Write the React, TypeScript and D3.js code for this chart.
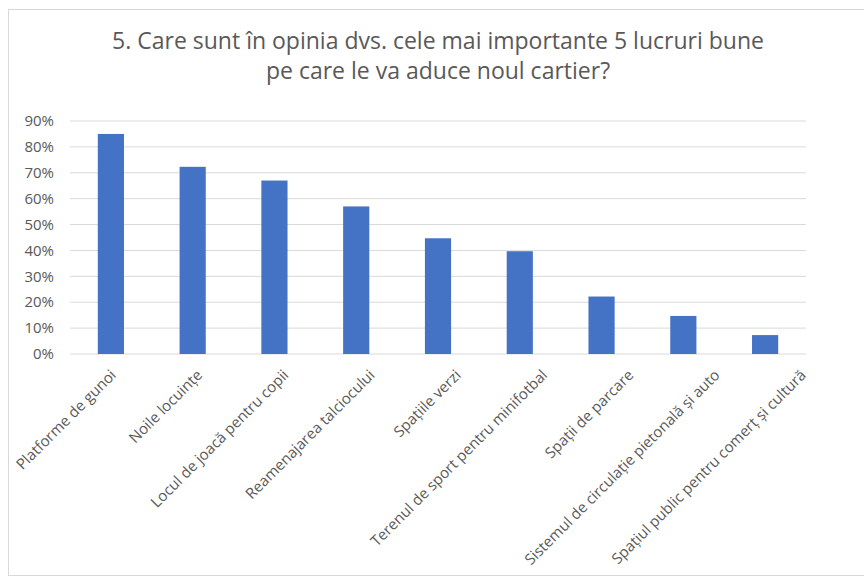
import { useEffect, useRef } from "react";
import * as d3 from "d3";

const categories = [
  "Platforme de gunoi",
  "Noile locuințe",
  "Locul de joacă pentru copii",
  "Reamenajarea talciocului",
  "Spațiile verzi",
  "Terenul de sport pentru minifotbal",
  "Spații de parcare",
  "Sistemul de circulație pietonală și auto",
  "Spațiul public pentru comerț și cultură",
];
const values = [0.85, 0.723, 0.67, 0.57, 0.447, 0.397, 0.222, 0.147, 0.073];
const yTicks = [0, 0.1, 0.2, 0.3, 0.4, 0.5, 0.6, 0.7, 0.8, 0.9];
const titleLines = [
  "5. Care sunt în opinia dvs. cele mai importante 5 lucruri bune",
  "pe care le va aduce noul cartier?",
];

const W = 864;
const H = 579;
const margin = { top: 121, right: 58, bottom: 225, left: 70 };
const font = "'Open Sans', sans-serif";

export default function App() {
  const svgRef = useRef<SVGSVGElement>(null);

  useEffect(() => {
    const svg = d3.select(svgRef.current);
    svg.selectAll("*").remove();

    const innerW = W - margin.left - margin.right;
    const innerH = H - margin.top - margin.bottom;

    // chart frame
    svg.append("rect")
      .attr("x", 8.5).attr("y", 9.5)
      .attr("width", W).attr("height", 566)
      .attr("fill", "#fff")
      .attr("stroke", "#d9d9d9");

    svg.selectAll("text.title")
      .data(titleLines)
      .join("text")
      .attr("class", "title")
      .attr("x", 438)
      .attr("y", (d, i) => 49 + i * 30)
      .attr("text-anchor", "middle")
      .attr("font-family", font)
      .attr("font-size", 23)
      .attr("fill", "#595959")
      .text((d) => d);

    const g = svg.append("g")
      .attr("transform", "translate(" + margin.left + "," + margin.top + ")");

    const x = d3.scaleBand()
      .domain(categories)
      .range([0, innerW])
      .paddingInner(0.68)
      .paddingOuter(0.34);

    // the category labels in the original sit on a slightly wider spread than the bars
    const xLabel = d3.scalePoint()
      .domain(categories)
      .range([47, 737]);

    const y = d3.scaleLinear()
      .domain([0, 0.9])
      .range([innerH, 0]);

    // grid lines
    g.selectAll("line.grid")
      .data(yTicks)
      .join("line")
      .attr("class", "grid")
      .attr("x1", 0).attr("x2", innerW)
      .attr("y1", (d) => y(d)).attr("y2", (d) => y(d))
      .attr("stroke", "#d9d9d9")
      .attr("stroke-width", 1);

    g.selectAll("text.ytick")
      .data(yTicks)
      .join("text")
      .attr("class", "ytick")
      .attr("x", -16)
      .attr("y", (d) => y(d))
      .attr("dy", "0.35em")
      .attr("text-anchor", "end")
      .attr("font-family", font)
      .attr("font-size", 15)
      .attr("fill", "#595959")
      .text((d) => d3.format(".0%")(d));

    g.selectAll("rect.bar")
      .data(values)
      .join("rect")
      .attr("class", "bar")
      .attr("x", (d, i) => x(categories[i])!)
      .attr("y", (d) => y(d))
      .attr("width", x.bandwidth())
      .attr("height", (d) => innerH - y(d))
      .attr("fill", "#4472c4");

    g.selectAll("text.xlab")
      .data(categories)
      .join("text")
      .attr("class", "xlab")
      .attr("transform", (d) =>
        "translate(" + xLabel(d)! + "," + (innerH + 22) + ") rotate(-45)")
      .attr("text-anchor", "end")
      .attr("font-family", font)
      .attr("font-size", 15)
      .attr("fill", "#595959")
      .text((d) => d);
  }, []);

  return <svg ref={svgRef} width={W} height={H} style={{ position: "absolute", left: 0, top: 0 }} />;
}
